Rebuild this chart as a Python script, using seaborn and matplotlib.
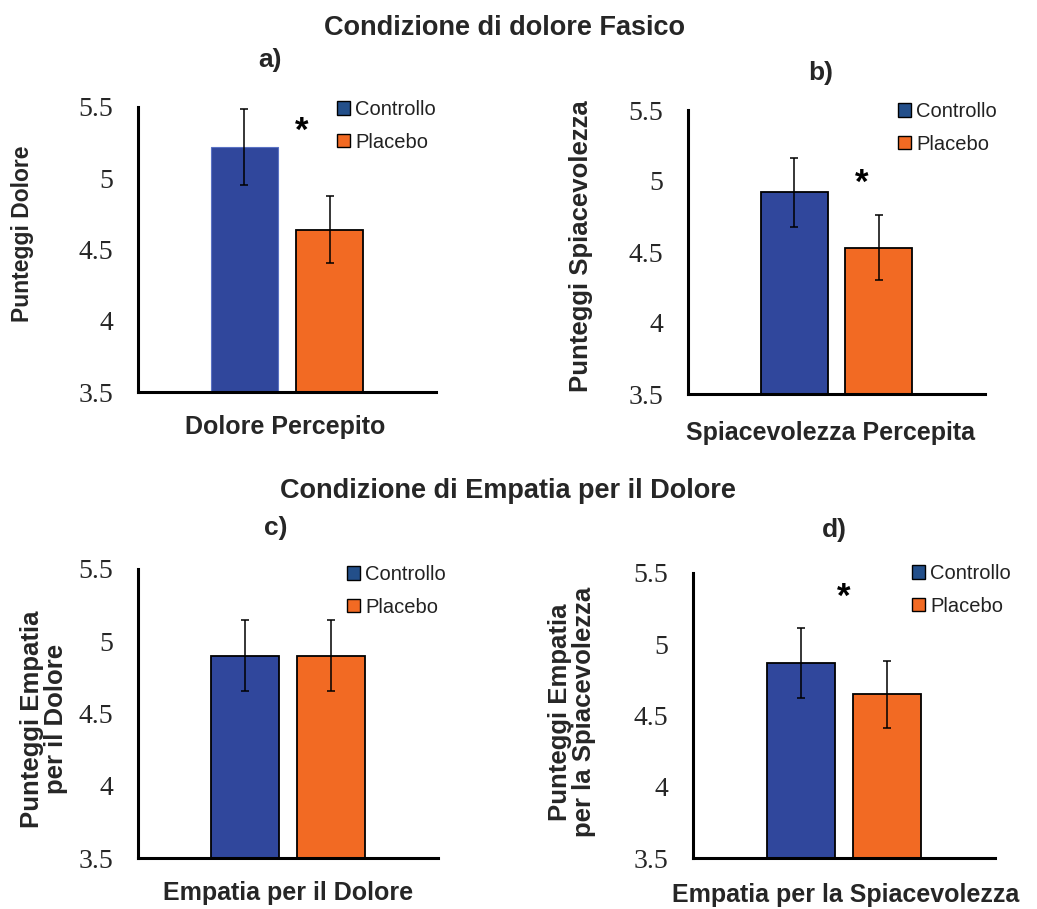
import matplotlib
matplotlib.use("Agg")
import matplotlib.pyplot as plt
import pandas as pd
import seaborn as sns

# --- dati ---------------------------------------------------------------
gruppi = ["Controllo", "Placebo"]
misure = ["Dolore Percepito", "Spiacevolezza Percepita",
          "Empatia per il Dolore", "Empatia per la Spiacevolezza"]
pannelli = ["a)", "b)", "c)", "d)"]
etichette_y = ["Punteggi Dolore", "Punteggi Spiacevolezza",
               "Punteggi Empatia\nper il Dolore",
               "Punteggi Empatia\nper la Spiacevolezza"]
medie_controllo = [5.22, 4.92, 4.90, 4.87]
medie_placebo = [4.64, 4.53, 4.90, 4.65]
err_controllo = [0.265, 0.245, 0.245, 0.245]
err_placebo = [0.235, 0.23, 0.245, 0.235]
significativo = [True, True, False, True]
tick_y = [3.5, 4, 4.5, 5, 5.5]
tick_y_label = ["3.5", "4", "4.5", "5", "5.5"]
titoli = ["Condizione di dolore Fasico", "Condizione di Empatia per il Dolore"]

# --- stile --------------------------------------------------------------
BLU = "#30479C"
ARANCIO = "#F26A23"
BLU_LEGENDA = "#234F8A"
W, H = 1037, 909

sns.set_style("white")
plt.rcParams["font.family"] = ["Liberation Sans", "DejaVu Sans"]

fig = plt.figure(figsize=(W / 100, H / 100), dpi=100)


def px_axes(left, top, right, bottom):
    return fig.add_axes([left / W, 1 - bottom / H, (right - left) / W, (bottom - top) / H])


def fig_xy(x, y):
    return x / W, 1 - y / H


# layout of each panel in pixels
riquadri = [(138, 107, 436, 392), (688, 110, 985, 394),
            (138, 569, 438, 858), (693, 573, 995, 858)]
pos_legenda = [(337, 100), (898, 102), (347, 565), (912, 564)]
pos_lettera = [(258, 67), (808, 80), (264, 535), (822, 537)]
pos_ylabel = [(23, 234), (581, 246), (44, 719), (572, 712)]
size_ylabel = [16.5, 18.5, 18.5, 18.5]
pos_xlabel = [(285, 427), (831, 433), (288, 893), (846, 895)]
pos_asterisco = [(0.07, 5.33), (0.118, 4.98), None, (0.0, 5.33)]

L = 0.7
for i in range(4):
    ax = px_axes(*riquadri[i])
    df = pd.DataFrame({
        "misura": [misure[i]] * 2,
        "gruppo": gruppi,
        "valore": [medie_controllo[i], medie_placebo[i]],
    })
    sns.barplot(data=df, x="misura", y="valore", hue="gruppo", hue_order=gruppi,
                palette=[BLU, ARANCIO], saturation=1, width=0.8, gap=0.21,
                errorbar=None, edgecolor="black", linewidth=1.3, ax=ax)
    if i == 0:
        ax.patches[0].set_edgecolor("#5A72C4")
        ax.patches[0].set_linewidth(0.8)

    for patch, err in zip(ax.patches[:2], [err_controllo[i], err_placebo[i]]):
        xc = patch.get_x() + patch.get_width() / 2
        ax.errorbar(xc, patch.get_height(), yerr=err, fmt="none", ecolor="black",
                    elinewidth=1.1, capsize=3, capthick=1.1, zorder=5)

    ax.set_xlim(-L, L)
    ax.set_xticks([-L, 0, L])
    ax.set_xticklabels([])
    ax.set_ylim(3.5, 5.5)
    ax.set_yticks(tick_y)
    ax.set_yticklabels(tick_y_label, fontfamily="Liberation Serif", fontsize=20,
                       color="#262626")
    ax.set_xlabel("")
    ax.set_ylabel("")
    ax.tick_params(axis="both", direction="out", length=6, width=2.2, color="black")
    ax.tick_params(axis="y", pad=12)
    for s in ["top", "right"]:
        ax.spines[s].set_visible(False)
    for s in ["left", "bottom"]:
        ax.spines[s].set_linewidth(2.2)
        ax.spines[s].set_color("black")

    lx, ly = pos_legenda[i]
    sns.move_legend(ax, "upper left", bbox_to_anchor=fig_xy(lx, ly),
                    bbox_transform=fig.transFigure, frameon=False, title=None,
                    fontsize=14.5, handlelength=0.65, handleheight=0.65,
                    handletextpad=0.25, labelspacing=0.68, borderpad=0,
                    borderaxespad=0)
    leg = ax.get_legend()
    for h, c in zip(leg.legend_handles, [BLU_LEGENDA, ARANCIO]):
        h.set_facecolor(c)
        h.set_edgecolor("black")
        h.set_linewidth(1.0)
    for t in leg.get_texts():
        t.set_color("#222222")

    if pos_asterisco[i] is not None:
        ax.text(*pos_asterisco[i], "*", ha="center", va="center",
                fontsize=25, fontweight="bold", color="black")

    fig.text(*fig_xy(*pos_lettera[i]), pannelli[i], ha="left", va="baseline",
             fontsize=19, fontweight="bold")
    fig.text(*fig_xy(*pos_ylabel[i]), etichette_y[i], ha="center", va="center",
             rotation=90, fontsize=size_ylabel[i], fontweight="bold", linespacing=1.0)
    fig.text(*fig_xy(*pos_xlabel[i]), misure[i], ha="center", va="center",
             fontsize=18, fontweight="bold")

fig.text(*fig_xy(504, 35), titoli[0], ha="center", va="baseline",
         fontsize=19.5, fontweight="bold")
fig.text(*fig_xy(508, 498), titoli[1], ha="center", va="baseline",
         fontsize=19.5, fontweight="bold")

fig.savefig("out.png", dpi=100)
